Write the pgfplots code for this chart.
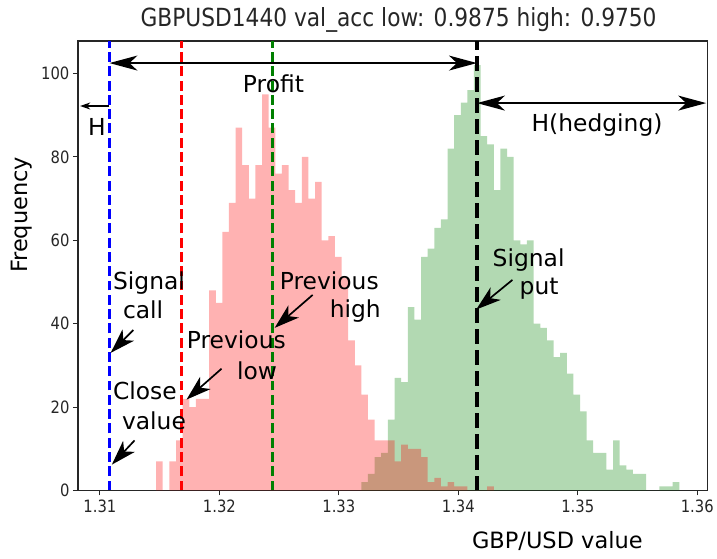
\documentclass[border=0pt]{standalone}
\usepackage{fontspec}
\setmainfont{DejaVu Sans}
\newfontfamily\condfam[FakeStretch=0.87]{DejaVu Sans}
\usepackage{pgfplots}
\usepackage{pgfplotstable}
\pgfplotsset{compat=1.18}
\usetikzlibrary{arrows.meta}
\definecolor{mplgreen}{RGB}{0,128,0}
\definecolor{txtgray}{RGB}{38,38,38}

\newcommand\annf{\fontsize{23.4bp}{28bp}\selectfont}
\newcommand\tickf{\condfam\fontsize{17bp}{20bp}\selectfont}
\newcommand\titlef{\condfam\fontsize{25bp}{29bp}\selectfont}
\newcommand\labf{\fontsize{22.5bp}{26bp}\selectfont}

% histogram bins: left edge, count (last row = right edge of last bin)
\pgfplotstableread{
x y
1.31471 7
1.31526 0
1.31581 7
1.31637 12
1.31692 22
1.31748 20
1.31803 22
1.31859 22
1.31914 48
1.31970 45
1.32025 62
1.32080 69
1.32136 87
1.32191 78
1.32247 70
1.32302 78
1.32358 95
1.32413 87
1.32468 76
1.32524 78
1.32579 72
1.32635 69
1.32690 80
1.32746 70
1.32801 74
1.32856 60
1.32912 61
1.32967 56
1.33023 51
1.33078 36
1.33134 30
1.33189 23
1.33244 17
1.33300 12
1.33355 12
1.33411 12
1.33466 7
1.33522 11
1.33577 10
1.33633 10
1.33688 8
1.33743 2
1.33799 3
1.33854 1
1.33910 2
1.33965 1
1.34021 1
1.34076 0
1.34131 0
1.34187 0
1.34242 1
1.34298 1
}\lowhist

\pgfplotstableread{
x y
1.33189 2
1.33244 4
1.33300 8
1.33355 9
1.33411 17
1.33466 27
1.33522 26
1.33577 44
1.33633 41
1.33688 56
1.33743 58
1.33799 63
1.33854 65
1.33910 82
1.33965 90
1.34021 93
1.34076 96
1.34131 102
1.34187 85
1.34242 83
1.34298 72
1.34353 82
1.34409 80
1.34464 60
1.34520 59
1.34575 60
1.34630 40
1.34686 39
1.34741 36
1.34797 32
1.34852 33
1.34908 28
1.34963 23
1.35019 19
1.35074 12
1.35129 9
1.35185 9
1.35240 5
1.35296 12
1.35351 6
1.35407 5
1.35462 4
1.35518 4
1.35573 0
1.35628 0
1.35684 1
1.35739 1
1.35795 2
1.35850 2
}\highhist

\begin{document}
\begin{tikzpicture}
\begin{axis}[
  name=ax, at={(0,0)}, anchor=south west,
  scale only axis, width=630bp, height=450bp,
  xmin=1.30816, xmax=1.36084, ymin=0, ymax=107.8,
  xtick={1.31,1.32,1.33,1.34,1.35,1.36},
  xticklabels={1.31,1.32,1.33,1.34,1.35,1.36},
  ytick={0,20,40,60,80,100},
  yticklabels={0,20,40,60,80,100},
  scaled x ticks=false,
  tick pos=left, tick align=outside,
  major tick length=5bp,
  every tick/.style={txtgray, line width=1bp},
  axis line style={txtgray, line width=1.3bp},
  ticklabel style={font=\tickf, text=txtgray},
  xticklabel style={yshift=-1bp},
  /pgf/number format/assume math mode=true,
  clip=false,
]
\addplot[draw=none, fill=mplgreen, fill opacity=0.3, const plot, mark=none] table {\highhist} \closedcycle;
\addplot[draw=none, fill=red, fill opacity=0.3, const plot, mark=none] table {\lowhist} \closedcycle;

\addplot[blue, line width=3bp, dash pattern=on 10bp off 4.3bp, mark=none] coordinates {(1.3108,0) (1.3108,107.8)};
\addplot[red, line width=3bp, dash pattern=on 10bp off 4.3bp, mark=none] coordinates {(1.3168,0) (1.3168,107.8)};
\addplot[mplgreen, line width=3bp, dash pattern=on 10bp off 4.3bp, mark=none] coordinates {(1.32442,0) (1.32442,107.8)};
\addplot[black, line width=4bp, dash pattern=on 15bp off 6bp, mark=none] coordinates {(1.34156,0) (1.34156,107.8)};

% double arrows
\draw[{Stealth[length=28bp,width=15bp,inset=8bp]}-{Stealth[length=28bp,width=15bp,inset=8bp]}, line width=1.5bp]
  (axis cs:1.3108,102.5) -- (axis cs:1.34156,102.5);
\draw[{Stealth[length=28bp,width=15bp,inset=8bp]}-{Stealth[length=28bp,width=15bp,inset=8bp]}, line width=1.5bp]
  (axis cs:1.34156,92.9) -- (axis cs:1.36075,92.9);
\draw[-{Stealth[length=10bp,width=7bp,inset=3bp]}, line width=1.2bp]
  (axis cs:1.3108,92.2) -- (axis cs:1.30835,92.2);

% pointer arrows
\tikzset{ptr/.style={-{Stealth[length=25bp,width=16bp,inset=7bp]}, line width=1.7bp}}
\draw[ptr] (axis cs:1.3128,38.5) -- (axis cs:1.3109,33);
\draw[ptr] (axis cs:1.3129,12) -- (axis cs:1.3110,6.2);
\draw[ptr] (axis cs:1.32018,29.2) -- (axis cs:1.31725,21.8);
\draw[ptr] (axis cs:1.32781,46.9) -- (axis cs:1.32463,39);
\draw[ptr] (axis cs:1.34453,50.5) -- (axis cs:1.34150,43.4);

% annotation texts
\tikzset{ann/.style={anchor=base west, inner sep=0pt, font=\annf}}
\node[ann] at (axis cs:1.31109,48.14) {Signal};
\node[ann] at (axis cs:1.31192,41.20) {call};
\node[ann] at (axis cs:1.31109,21.80) {Close};
\node[ann] at (axis cs:1.31184,14.61) {value};
\node[ann] at (axis cs:1.31727,34.01) {Previous};
\node[ann] at (axis cs:1.32146,26.59) {low};
\node[ann] at (axis cs:1.32505,48.14) {Previous};
\node[ann] at (axis cs:1.32923,41.44) {high};
\node[ann] at (axis cs:1.34286,53.65) {Signal};
\node[ann] at (axis cs:1.34512,46.95) {put};
\node[ann] at (axis cs:1.32196,95.33) {Profit};
\node[ann] at (axis cs:1.30900,85.03) {H};
\node[ann] at (axis cs:1.34612,85.99) {H(hedging)};

% title and axis labels
\node[anchor=base, inner sep=0pt, font=\titlef, text=txtgray] at (axis cs:1.3350,111.38) {GBPUSD1440 val\_acc low: 0.9875 high: 0.9750};
\node[rotate=90, anchor=center, inner sep=0pt, font=\labf] at (axis cs:1.30348,66.1) {Frequency};
\node[anchor=base, inner sep=0pt, font=\labf] at (axis cs:1.34829,-13.89) {GBP/USD value};
\end{axis}
\path (-78bp,-68bp) rectangle (639bp,491bp);
\end{tikzpicture}
\end{document}
